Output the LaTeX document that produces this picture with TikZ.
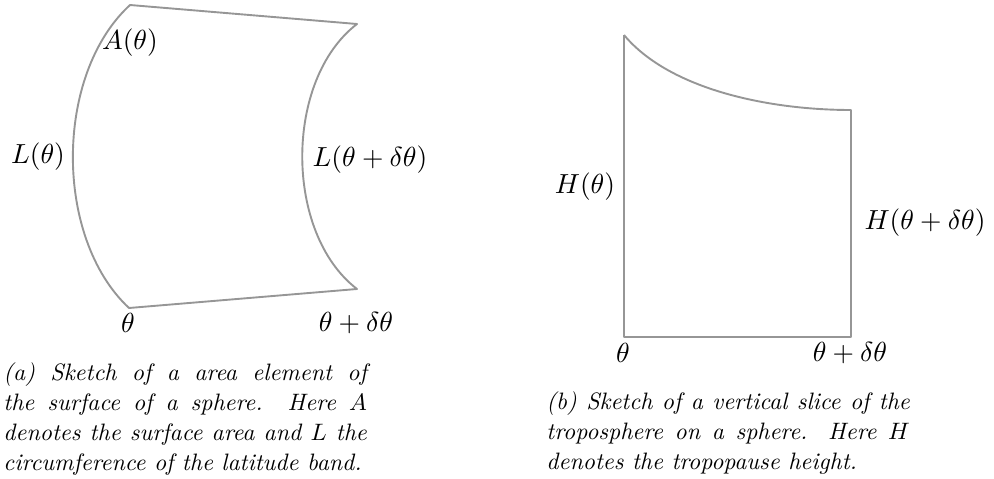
\documentclass[tikz,border=0pt]{standalone}
\usepackage{tikz}
\usetikzlibrary{positioning}
\definecolor{sketchgray}{RGB}{150,150,150}

\begin{document}
\begin{tikzpicture}[
  x=0.42105pt, y=-0.42105pt,
  edge/.style={draw=sketchgray, line width=0.8pt, line join=round},
  lbl/.style={inner sep=0pt, scale=1.06, transform shape,
    font=\fontsize{10.95}{13}\selectfont},
  captxt/.style={inner sep=0pt, anchor=north west, text width=153pt,
    align=justify, font=\fontsize{10}{12.6}\selectfont\itshape}
]
\useasboundingbox (0,0) rectangle (994,478);

% (a) area element
\coordinate (a-tl) at (130,5);
\coordinate (a-tr) at (357,24);
\coordinate (a-bl) at (129,308);
\coordinate (a-br) at (357,289);
\draw[edge] (a-bl) .. controls (54,238) and (54,75) .. (a-tl) -- (a-tr)
  .. controls (284,80) and (284,233) .. (a-br) -- cycle;

\node[lbl] (atheta) at (130,43) {$A(\theta)$};
\node[lbl] (ltheta) at (38,157) {$L(\theta)$};
\node[lbl] (ldtheta) at (370,160) {$L(\theta+\delta\theta)$};
\node[lbl] (thetaa) at (128,323) {$\theta$};
\node[lbl] (thetada) at (356,323) {$\theta+\delta\theta$};

\node[captxt] (capa) at (3,362) {(a) Sketch of a area element of\linebreak the surface of a sphere. Here $A$\linebreak denotes the surface area and $L$ the\linebreak circumference of the latitude band.};

% (b) vertical slice
\coordinate (b-tl) at (624,35);
\coordinate (b-bl) at (624,337);
\coordinate (b-br) at (851,337);
\coordinate (b-tr) at (851,110);
\draw[edge] (b-tl) -- (b-bl) -- (b-br) -- (b-tr)
  .. controls (770,110) and (670,90) .. (b-tl);

\node[lbl] (htheta) at (585,187) {$H(\theta)$};
\node[lbl] (hdtheta) at (925,223) {$H(\theta+\delta\theta)$};
\node[lbl] (thetab) at (623,353) {$\theta$};
\node[lbl] (thetadb) at (850,353) {$\theta+\delta\theta$};

\node[captxt] (capb) at (546,391) {(b) Sketch of a vertical slice of the troposphere on a sphere. Here $H$ denotes the tropopause height.};
\end{tikzpicture}
\end{document}
